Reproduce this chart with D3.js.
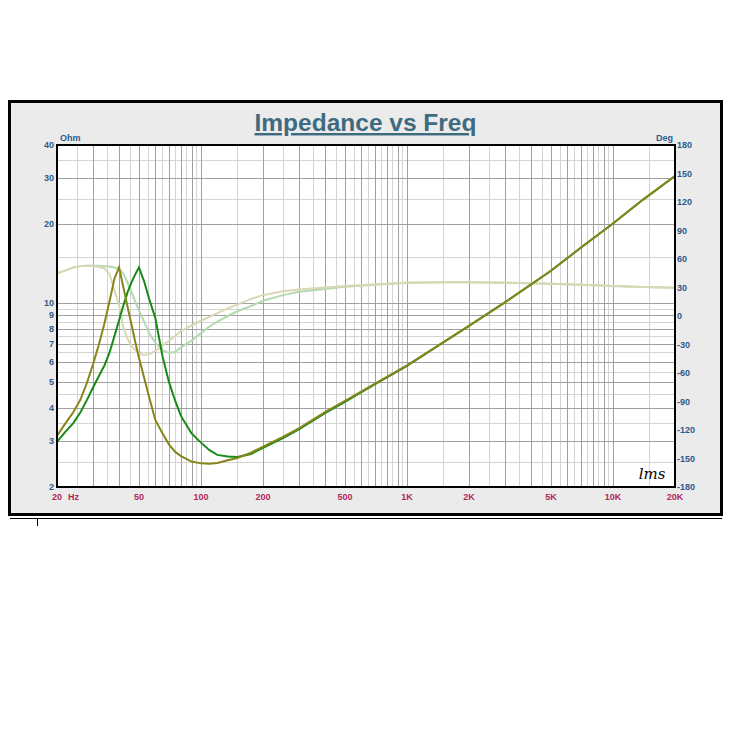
<!DOCTYPE html>
<html><head><meta charset="utf-8">
<script src="https://cdn.jsdelivr.net/npm/d3@7"></script>
<style>
html,body{margin:0;padding:0;background:#fff;}
svg{display:block;font-family:"Liberation Sans",Arial,sans-serif;}
</style></head>
<body>
<svg id="chart" width="738" height="748"></svg>
<script>
const title = "Impedance vs Freq";
const freq = [20,22,24,26,28,30,32,34,36,38,40,42,44,46,48,50,53,56,60,65,70,75,80,90,100,110,120,135,150,175,200,250,300,400,500,700,1000,1500,2000,3000,5000,7000,10000,14000,20000];
// impedance (Ohm)
const zOlive = [3.13,3.5,3.85,4.3,5.0,5.9,7.0,8.4,10.2,12.4,13.7,11.5,9.7,8.3,7.1,6.2,5.2,4.4,3.6,3.2,2.9,2.72,2.62,2.5,2.46,2.45,2.47,2.53,2.58,2.7,2.85,3.1,3.35,3.85,4.25,4.95,5.8,7.1,8.2,10.1,13.3,16.3,20.1,24.8,30.5];
const zGreen = [2.97,3.25,3.5,3.85,4.3,4.8,5.3,5.8,6.5,7.5,8.6,9.8,11.0,12.0,12.9,13.7,12.1,10.4,8.8,6.3,5.0,4.25,3.72,3.2,2.95,2.76,2.65,2.61,2.6,2.67,2.82,3.07,3.32,3.82,4.22,4.92,5.78,7.1,8.2,10.1,13.3,16.3,20.1,24.8,30.5];
// phase (Deg)
const pKhaki = [45,48,51,52.5,53,52.5,51.5,50,44,27,12,-12,-24,-31.5,-36,-39.5,-41,-40,-37,-31,-26,-21,-16,-10,-5,-1,3,8,12,18,22,26,28,30,31.5,33.5,35,35.5,35.5,35,34,33,31.6,30.5,29.8];
const pLightGreen = [45,48,51,52.5,53,53,53,52.5,52,51,49.5,44.5,35,25,15,6,-6,-18,-28,-36,-39,-38,-33,-26,-18,-11,-6,0,5,10.5,16,22,25.5,28.5,30.8,33,35,35.5,35.5,35,34,33,31.6,30.5,29.8];

const ohmTicks = [2,3,4,5,6,7,8,9,10,20,30,40];
const degTicks = [-180,-150,-120,-90,-60,-30,0,30,60,90,120,150,180];
const freqTicks = [20,50,100,200,500,1000,2000,5000,10000,20000];
const freqTickLabels = ["20","50","100","200","500","1K","2K","5K","10K","20K"];

const svg = d3.select("#chart");
const L = 57, R = 675, T = 145, B = 487;

// frame
svg.append("rect").attr("x",9.5).attr("y",101.5).attr("width",712).attr("height",413)
  .attr("fill","#ebebeb").attr("stroke","#000").attr("stroke-width",3);
svg.append("line").attr("x1",10).attr("x2",722).attr("y1",518.5).attr("y2",518.5).attr("stroke","#000").attr("stroke-width",1);
svg.append("line").attr("x1",37.5).attr("x2",37.5).attr("y1",518).attr("y2",526).attr("stroke","#000").attr("stroke-width",1);

const x = d3.scaleLog().domain([20,20000]).range([L,R]);
const yO = d3.scaleLog().domain([2,40]).range([B,T]);
const yD = d3.scaleLinear().domain([-180,180]).range([B,T]);

svg.append("rect").attr("x",L).attr("y",T).attr("width",R-L).attr("height",B-T).attr("fill","#fff");

// grid
const vMajor=[], vMinor=[];
for (let d=10; d<=10000; d*=10) for (let n=1;n<=9;n++){
  const a=n*d, b=(n+0.5)*d;
  if (a>20 && a<20000) vMajor.push(a);
  if (b>20 && b<20000) vMinor.push(b);
}
const hMajor=[], hMinor=[];
for (let d=1; d<=10; d*=10) for (let n=1;n<=9;n++){
  const a=n*d, b=(n+0.5)*d;
  if (a>2 && a<40) hMajor.push(a);
  if (b>2 && b<40) hMinor.push(b);
}
const g = svg.append("g");
g.selectAll(".vmin").data(vMinor).join("line").attr("x1",d=>Math.round(x(d))+0.5).attr("x2",d=>Math.round(x(d))+0.5)
  .attr("y1",T).attr("y2",B).attr("stroke","#d4d4d4").attr("stroke-width",1);
g.selectAll(".hmin").data(hMinor).join("line").attr("y1",d=>Math.round(yO(d))+0.5).attr("y2",d=>Math.round(yO(d))+0.5)
  .attr("x1",L).attr("x2",R).attr("stroke","#d4d4d4").attr("stroke-width",1);
g.selectAll(".vmaj").data(vMajor).join("line").attr("x1",d=>Math.round(x(d))+0.5).attr("x2",d=>Math.round(x(d))+0.5)
  .attr("y1",T).attr("y2",B).attr("stroke","#a0a0a0").attr("stroke-width",1);
g.selectAll(".hmaj").data(hMajor).join("line").attr("y1",d=>Math.round(yO(d))+0.5).attr("y2",d=>Math.round(yO(d))+0.5)
  .attr("x1",L).attr("x2",R).attr("stroke","#a0a0a0").attr("stroke-width",1);

// curves
svg.append("clipPath").attr("id","pc").append("rect").attr("x",L).attr("y",T).attr("width",R-L).attr("height",B-T);
const cg = svg.append("g").attr("clip-path","url(#pc)");
const lineO = vals => d3.line().x((d,i)=>x(freq[i])).y(d=>yO(d))(vals);
const lineD = vals => d3.line().x((d,i)=>x(freq[i])).y(d=>yD(d))(vals);
cg.append("path").attr("d",lineD(pLightGreen)).attr("fill","none").attr("stroke","#b4d9b0").attr("stroke-width",2);
cg.append("path").attr("d",lineD(pKhaki)).attr("fill","none").attr("stroke","#d9d8b4").attr("stroke-width",2);
cg.append("path").attr("d",lineO(zGreen)).attr("fill","none").attr("stroke","#178a17").attr("stroke-width",2);
cg.append("path").attr("d",lineO(zOlive)).attr("fill","none").attr("stroke","#86861a").attr("stroke-width",2);

// plot border
svg.append("rect").attr("x",L).attr("y",T).attr("width",R-L).attr("height",B-T)
  .attr("fill","none").attr("stroke","#000").attr("stroke-width",2);

// axes labels
const blue = "#2d5b8c", red = "#b0285c";
svg.append("g").selectAll("text").data(ohmTicks).join("text")
  .attr("x",L-3).attr("y",d=>yO(d)+3).attr("text-anchor","end")
  .attr("font-size",9).attr("font-weight","bold").attr("fill",blue).text(d=>d);
svg.append("text").attr("x",L+3).attr("y",T-4).attr("font-size",9).attr("font-weight","bold").attr("fill",blue).text("Ohm");
svg.append("g").selectAll("text").data(degTicks).join("text")
  .attr("x",R+2).attr("y",d=>yD(d)+3).attr("text-anchor","start")
  .attr("font-size",9).attr("font-weight","bold").attr("fill",blue).text(d=>d);
svg.append("text").attr("x",R-2).attr("y",T-4).attr("text-anchor","end").attr("font-size",9).attr("font-weight","bold").attr("fill",blue).text("Deg");
svg.append("g").selectAll("text").data(freqTicks).join("text")
  .attr("x",d=>x(d)).attr("y",B+13).attr("text-anchor","middle")
  .attr("font-size",9).attr("font-weight","bold").attr("fill",red).text((d,i)=>freqTickLabels[i]);
svg.append("text").attr("x",x(20)+11).attr("y",B+13).attr("font-size",9).attr("font-weight","bold").attr("fill",red).text("Hz");

// title
svg.append("text").attr("x",365.5).attr("y",131).attr("text-anchor","middle")
  .attr("font-size",24.5).attr("font-weight","bold").attr("fill","#3f6b80")
  .attr("text-decoration","underline").text(title);

// LMS mark
svg.append("text").attr("x",652).attr("y",479).attr("text-anchor","middle")
  .attr("font-size",15).attr("font-style","italic").attr("font-family","DejaVu Serif")
  .attr("fill","#000").text("lms");
</script>
</body></html>
